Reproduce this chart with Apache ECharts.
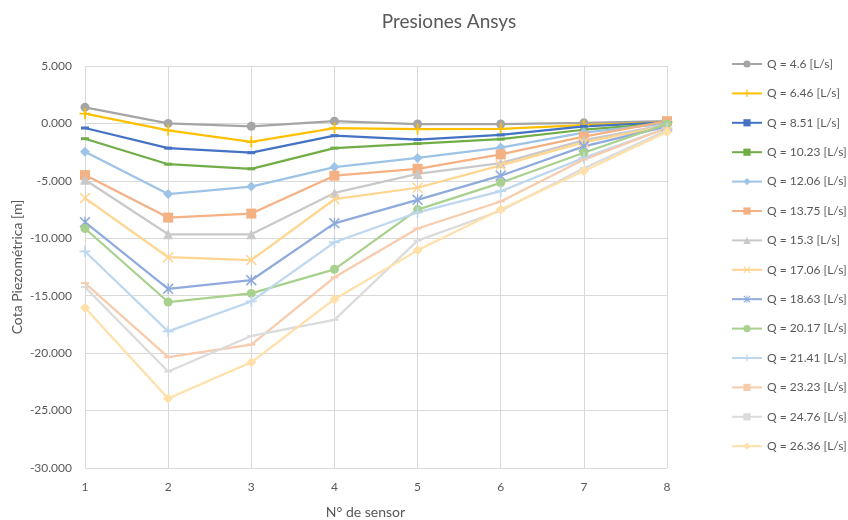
<!DOCTYPE html>
<html>
<head>
<meta charset="utf-8">
<script src="https://cdn.jsdelivr.net/npm/echarts@6/dist/echarts.min.js"></script>
<style>html,body{margin:0;padding:0;background:#fff;}#c{width:848px;height:520px;}</style>
</head>
<body>
<div id="c"></div>
<script>
const sensors = [1, 2, 3, 4, 5, 6, 7, 8];
const seriesNames = ['Q = 4.6 [L/s]','Q = 6.46 [L/s]','Q = 8.51 [L/s]','Q = 10.23 [L/s]','Q = 12.06 [L/s]','Q = 13.75 [L/s]','Q = 15.3 [L/s]','Q = 17.06 [L/s]','Q = 18.63 [L/s]','Q = 20.17 [L/s]','Q = 21.41 [L/s]','Q = 23.23 [L/s]','Q = 24.76 [L/s]','Q = 26.36 [L/s]'];
const q4_6   = [1.40, 0.00, -0.25, 0.20, -0.05, -0.05, 0.05, 0.20];
const q6_46  = [0.85, -0.60, -1.60, -0.40, -0.50, -0.47, -0.15, 0.10];
const q8_51  = [-0.40, -2.15, -2.55, -1.07, -1.40, -1.00, -0.25, 0.10];
const q10_23 = [-1.33, -3.55, -3.95, -2.15, -1.75, -1.37, -0.55, 0.00];
const q12_06 = [-2.47, -6.15, -5.50, -3.80, -3.00, -2.10, -0.80, 0.00];
const q13_75 = [-4.50, -8.20, -7.85, -4.55, -3.95, -2.70, -1.15, 0.20];
const q15_3  = [-4.90, -9.65, -9.65, -6.05, -4.40, -3.45, -1.45, -0.10];
const q17_06 = [-6.50, -11.65, -11.90, -6.60, -5.60, -3.65, -1.65, -0.20];
const q18_63 = [-8.60, -14.40, -13.65, -8.70, -6.65, -4.55, -2.00, -0.25];
const q20_17 = [-9.15, -15.55, -14.80, -12.70, -7.50, -5.17, -2.55, -0.05];
const q21_41 = [-11.15, -18.10, -15.50, -10.35, -7.75, -5.90, -3.00, -0.40];
const q23_23 = [-13.90, -20.35, -19.25, -13.40, -9.15, -6.80, -3.15, -0.40];
const q24_76 = [-14.25, -21.60, -18.50, -17.10, -10.20, -7.60, -3.90, -0.60];
const q26_36 = [-16.05, -23.95, -20.80, -15.30, -11.05, -7.50, -4.15, -0.75];
const allValues = [q4_6, q6_46, q8_51, q10_23, q12_06, q13_75, q15_3, q17_06, q18_63, q20_17, q21_41, q23_23, q24_76, q26_36];
const yTicks = [5, 0, -5, -10, -15, -20, -25, -30];

const colors = ['#A5A5A5','#FFC000','#4472C4','#70AD47','#9DC3E6','#F4B183','#C9C9C9','#FFD58F','#8FAADC','#A9D18E','#BDD7EE','#F8CBAD','#DBDBDB','#FFE0A8'];
const PLUS = 'path://M4.2,0 H5.8 V4.2 H10 V5.8 H5.8 V10 H4.2 V5.8 H0 V4.2 H4.2 Z';
const XMARK = 'path://M0,1 L1,0 L5,4 L9,0 L10,1 L6,5 L10,9 L9,10 L5,6 L1,10 L0,9 L4,5 Z';
const ASTER = 'path://M0,1 L1,0 L5,4 L9,0 L10,1 L6,5 L10,9 L9,10 L5,6 L1,10 L0,9 L4,5 Z M4.4,0 H5.6 V10 H4.4 Z';
const DASH = 'path://M0,0 H8 V3 H0 Z';
const DASH_THIN = 'path://M0,0 H8 V2 H0 Z';
const symbols = [
  ['circle', 9], [PLUS, 11], [DASH, 8], [DASH, 8], ['diamond', 10], ['rect', 10],
  ['triangle', 10], [XMARK, 11], [ASTER, 11], ['circle', 9], [PLUS, 11], [DASH_THIN, 8], [DASH_THIN, 8], ['diamond', 10]
];

const FONT = 'Lato, "Open Sans", sans-serif';
const series = allValues.map((vals, i) => ({
  name: seriesNames[i],
  type: 'line',
  data: vals.map((v, j) => [sensors[j], v]),
  symbol: symbols[i][0],
  symbolSize: symbols[i][1],
  symbolKeepAspect: true,
  showAllSymbol: true,
  lineStyle: { color: colors[i], width: 2.25 },
  itemStyle: { color: colors[i] },
  emphasis: { disabled: true },
  animation: false
}));

const chart = echarts.init(document.getElementById('c'), null, { renderer: 'canvas' });
chart.setOption({
  backgroundColor: '#fff',
  animation: false,
  title: {
    text: 'Presiones Ansys', left: 444, top: 7, textAlign: 'center',
    textStyle: { fontFamily: FONT, fontSize: 19, fontWeight: 'normal', color: '#595959' }
  },
  grid: { left: 85, right: 181, top: 66, bottom: 52, containLabel: false, outerBoundsMode: 'none' },
  legend: {
    orient: 'vertical', left: 731, top: 58, padding: 0, itemWidth: 30, itemHeight: 9, itemGap: 17.4,
    textStyle: { fontFamily: FONT, fontSize: 12, color: '#595959' },
    data: seriesNames
  },
  xAxis: {
    type: 'value', min: 1, max: 8, interval: 1,
    name: 'N° de sensor', nameLocation: 'middle', nameGap: 37, nameMoveOverlap: false,
    nameTextStyle: { fontFamily: FONT, fontSize: 14, color: '#595959', padding: [0, 21, 0, 0] },
    axisLine: { show: true, lineStyle: { color: '#D9D9D9', width: 1 } },
    axisTick: { show: false },
    axisLabel: { fontFamily: FONT, fontSize: 12, color: '#595959', margin: 13 },
    splitLine: { show: true, lineStyle: { color: '#D9D9D9', width: 1 } }
  },
  yAxis: {
    type: 'value', min: yTicks[yTicks.length - 1], max: yTicks[0], interval: 5,
    name: 'Cota Piezométrica [m]', nameLocation: 'middle', nameGap: 61, nameRotate: 90, nameMoveOverlap: false,
    nameTextStyle: { fontFamily: FONT, fontSize: 14, color: '#595959' },
    axisLine: { show: false },
    axisTick: { show: false },
    axisLabel: { fontFamily: FONT, fontSize: 12, color: '#595959', margin: 13, formatter: v => v.toFixed(3) },
    splitLine: { show: true, lineStyle: { color: '#D9D9D9', width: 1 } }
  },
  series: series
});
</script>
</body>
</html>
